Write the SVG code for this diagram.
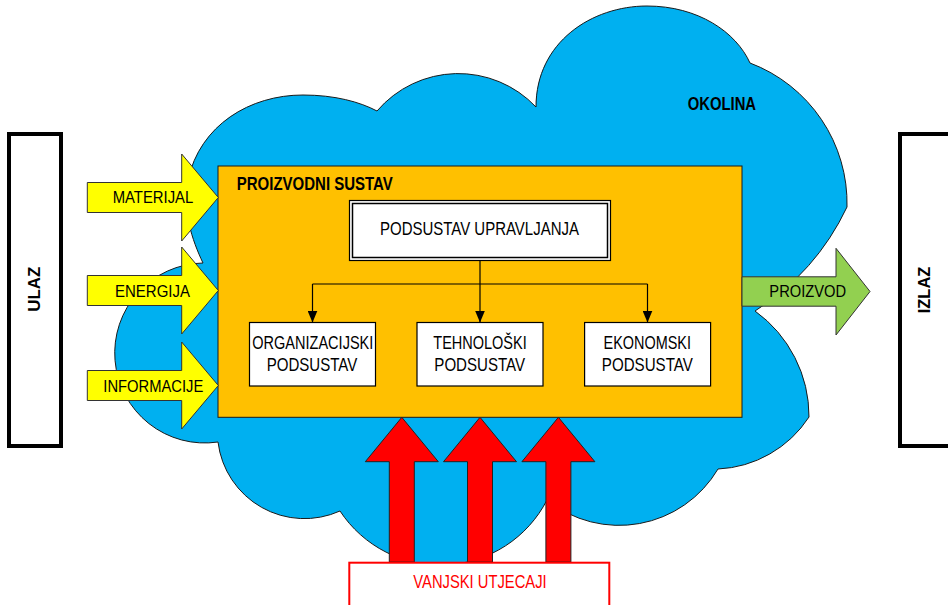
<svg xmlns="http://www.w3.org/2000/svg" width="948" height="605" viewBox="0 0 948 605">
  <style>
    text { font-family: "Liberation Sans", Arial, sans-serif; fill: #000; }
    .lbl { font-size: 16px; }
    .box-lbl { font-size: 17.5px; }
    .bold { font-weight: bold; }
    .io { fill: #fff; stroke: #000; stroke-width: 4; }
    .cloud { fill: #00B0F0; stroke: #1a1a1a; stroke-width: 1; }
    .system { fill: #FFC000; stroke: #1a1a1a; stroke-width: 1; }
    .sub { fill: #fff; stroke: #000; stroke-width: 1.2; }
    .in-arrow { fill: #FFFF00; stroke: #333; stroke-width: 1; }
    .out-arrow { fill: #92D050; stroke: #333; stroke-width: 1; }
    .ext-arrow { fill: #FF0000; stroke: #222; stroke-width: 1; }
    .link { fill: none; stroke: #000; stroke-width: 1.2; }
  </style>
  <defs>
    <marker id="tri" viewBox="0 0 12 10" refX="12" refY="5" markerWidth="12" markerHeight="10" markerUnits="userSpaceOnUse" orient="auto">
      <path d="M0,0 L12,5 L0,10 z" fill="#000"/>
    </marker>
  </defs>

  <!-- input / output side panels -->
  <g id="ulaz">
    <rect class="io" x="9" y="134" width="52" height="312"/>
    <text class="bold" font-size="17" text-anchor="middle" textLength="45" lengthAdjust="spacingAndGlyphs" transform="translate(40,289.2) rotate(-90)">ULAZ</text>
  </g>
  <g id="izlaz">
    <rect class="io" x="900" y="134" width="70" height="312"/>
    <text class="bold" font-size="17" text-anchor="middle" textLength="46.7" lengthAdjust="spacingAndGlyphs" transform="translate(930,290) rotate(-90)">IZLAZ</text>
  </g>

  <!-- environment cloud -->
  <g id="okolina">
    <path class="cloud" d="M203,263 C192,240 182,210 188,180 C200,125 250,95 303,95 C335,95 360,102 377,111 A107,107 0 0 1 536,107 C536,42 592,6 647,6 C698,6 736,32 750,63 A150,150 0 0 1 847,207 A250,250 0 0 1 755,311 A130,130 0 0 1 809,417 A115,115 0 0 1 718,469 A115,115 0 0 1 547,500 A120,120 0 0 1 340,511 A87,87 0 0 1 218,442 A90,90 0 1 1 203,263 Z"/>
    <text class="bold box-lbl" x="721.9" y="110" text-anchor="middle" textLength="68.3" lengthAdjust="spacingAndGlyphs">OKOLINA</text>
  </g>

  <!-- production system -->
  <g id="proizvodni-sustav">
    <rect class="system" x="218" y="166" width="524" height="251.3"/>
    <text class="bold" font-size="18" x="236.8" y="190" textLength="156" lengthAdjust="spacingAndGlyphs">PROIZVODNI SUSTAV</text>
  </g>

  <g id="podsustav-upravljanja">
    <rect class="sub" x="349.5" y="200.5" width="261" height="60"/>
    <rect fill="none" stroke="#000" stroke-width="1.5" x="352.5" y="203.5" width="255" height="54"/>
    <text class="box-lbl" x="479.5" y="235" text-anchor="middle" textLength="199" lengthAdjust="spacingAndGlyphs">PODSUSTAV UPRAVLJANJA</text>
  </g>

  <g id="organizacijski">
    <rect class="sub" x="249.5" y="322.5" width="126" height="63.5"/>
    <text class="box-lbl" x="312.8" y="349.3" text-anchor="middle" textLength="121" lengthAdjust="spacingAndGlyphs">ORGANIZACIJSKI</text>
    <text class="box-lbl" x="312" y="370.7" text-anchor="middle" textLength="90.6" lengthAdjust="spacingAndGlyphs">PODSUSTAV</text>
  </g>

  <g id="tehnoloski">
    <rect class="sub" x="417" y="322.5" width="126" height="63.5"/>
    <text class="box-lbl" x="480" y="349.3" text-anchor="middle" textLength="93.4" lengthAdjust="spacingAndGlyphs">TEHNOLOŠKI</text>
    <text class="box-lbl" x="479.7" y="370.7" text-anchor="middle" textLength="90.7" lengthAdjust="spacingAndGlyphs">PODSUSTAV</text>
  </g>

  <g id="ekonomski">
    <rect class="sub" x="584.6" y="322.5" width="126" height="63.5"/>
    <text class="box-lbl" x="647.3" y="349.3" text-anchor="middle" textLength="87.4" lengthAdjust="spacingAndGlyphs">EKONOMSKI</text>
    <text class="box-lbl" x="647.3" y="370.7" text-anchor="middle" textLength="91" lengthAdjust="spacingAndGlyphs">PODSUSTAV</text>
  </g>

  <!-- control links -->
  <g id="connectors">
    <path class="link" d="M312.5,284 H647.5"/>
    <path class="link" stroke-width="1.8" d="M480,260.5 V322.5" marker-end="url(#tri)"/>
    <path class="link" d="M312.5,284 V322.5" marker-end="url(#tri)"/>
    <path class="link" d="M647.5,284 V322.5" marker-end="url(#tri)"/>
  </g>

  <!-- inputs -->
  <g id="materijal">
    <polygon class="in-arrow" points="87.3,182.5 181.7,182.5 181.7,154 218.3,197.5 181.7,241 181.7,212.5 87.3,212.5"/>
    <text class="lbl" x="153" y="203.3" text-anchor="middle" textLength="80.6" lengthAdjust="spacingAndGlyphs">MATERIJAL</text>
  </g>
  <g id="energija">
    <polygon class="in-arrow" points="87.3,275.5 181.7,275.5 181.7,247 218.3,290.5 181.7,334 181.7,305.5 87.3,305.5"/>
    <text class="lbl" x="152.5" y="296.7" text-anchor="middle" textLength="75" lengthAdjust="spacingAndGlyphs">ENERGIJA</text>
  </g>
  <g id="informacije">
    <polygon class="in-arrow" points="87.3,370.5 181.7,370.5 181.7,342 218.3,385.5 181.7,429 181.7,400.5 87.3,400.5"/>
    <text class="lbl" x="153.3" y="391.7" text-anchor="middle" textLength="100" lengthAdjust="spacingAndGlyphs">INFORMACIJE</text>
  </g>

  <!-- output -->
  <g id="proizvod">
    <polygon class="out-arrow" points="742,276.8 836,276.8 836,248.3 870,291.5 836,335 836,306.2 742,306.2"/>
    <text class="lbl" x="807.7" y="296.7" text-anchor="middle" textLength="76.7" lengthAdjust="spacingAndGlyphs">PROIZVOD</text>
  </g>

  <!-- external influences -->
  <g id="vanjski-utjecaji">
    <polygon class="ext-arrow" points="401.8,417.3 438.3,461.7 414.3,461.7 414.3,562 389.3,562 389.3,461.7 365.3,461.7"/>
    <polygon class="ext-arrow" points="480,417.3 516.5,461.7 492.5,461.7 492.5,562 467.5,562 467.5,461.7 443.5,461.7"/>
    <polygon class="ext-arrow" points="558.4,417.3 594.9,461.7 570.9,461.7 570.9,562 545.9,562 545.9,461.7 521.9,461.7"/>
    <rect x="349.3" y="562.7" width="260" height="60" fill="#fff" stroke="#FF0000" stroke-width="2"/>
    <text class="box-lbl" x="480" y="588.3" text-anchor="middle" textLength="133.4" lengthAdjust="spacingAndGlyphs" style="fill:#FF0000">VANJSKI UTJECAJI</text>
  </g>
</svg>
